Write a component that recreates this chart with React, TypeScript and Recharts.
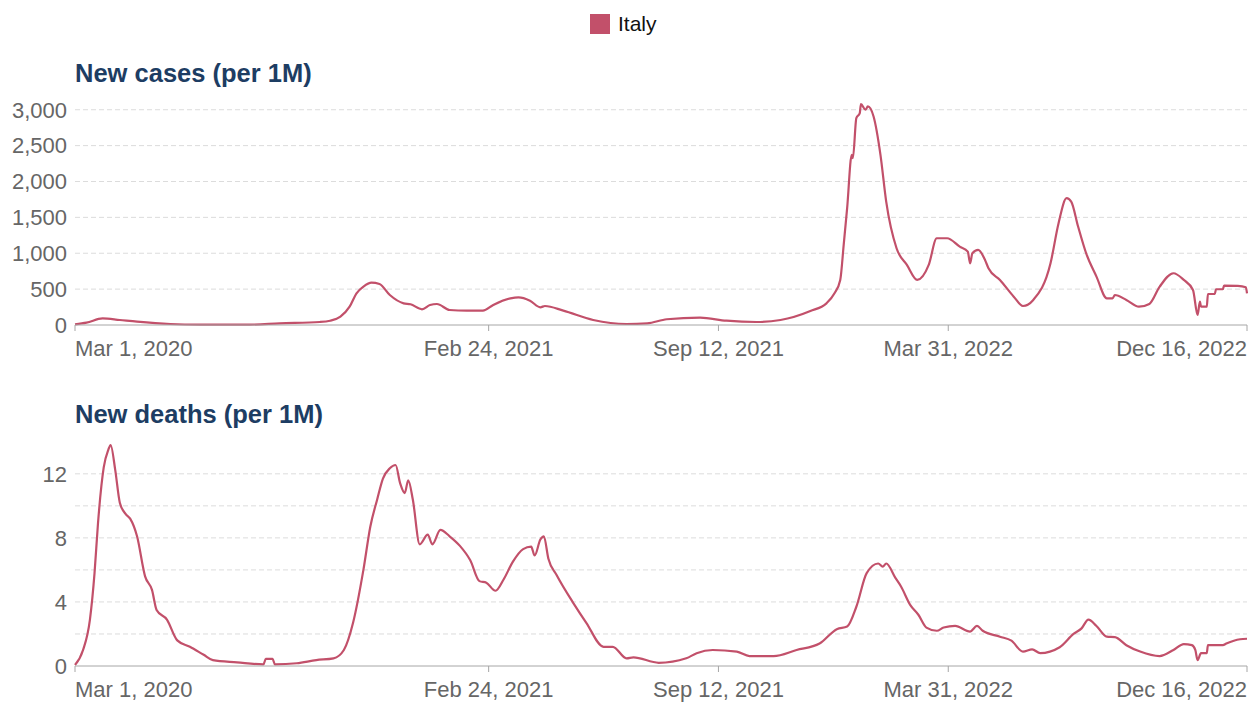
import { LineChart, Line, XAxis, YAxis, CartesianGrid } from "recharts";

// days since Mar 1, 2020
const caseDays = [
  0, 10, 24, 39, 54, 83, 109, 152, 178, 213, 222, 231, 239, 245, 251, 258, 265, 274, 286, 292,
  302, 309, 315, 326, 341, 355, 364, 379, 386, 396, 405, 409, 425, 451, 480, 498, 515, 544, 567, 593,
  614, 640, 654, 661, 666, 669, 672, 676, 677, 680, 683, 684, 688, 690, 695, 701, 706, 715, 724, 733,
  743, 750, 759, 770, 777, 779, 781, 786, 792, 795, 805, 817, 825, 834, 849, 856, 863, 867, 873, 880,
  889, 898, 903, 905, 915, 926, 935, 944, 956, 965, 973, 977, 979, 980, 985, 986, 992, 993, 999, 1000,
  1012, 1019, 1020,
];
const caseValues = [
  10, 32, 93, 70, 46, 14, 6, 5, 23, 42, 60, 116, 255, 442, 534, 590, 572, 418, 302, 289,
  219, 279, 293, 209, 199, 200, 279, 372, 386, 339, 247, 265, 200, 70, 14, 23, 80, 102, 60, 42,
  70, 195, 302, 442, 628, 1116, 1628, 2372, 2325, 2883, 2953, 3079, 3000, 3046, 2906, 2372, 1720, 1070, 837, 628,
  837, 1209, 1209, 1093, 1023, 860, 1000, 1046, 907, 791, 628, 395, 265, 349, 860, 1419, 1767, 1720, 1372, 1000,
  674, 372, 372, 418, 349, 255, 293, 534, 721, 628, 488, 140, 325, 255, 255, 432, 432, 498, 498, 548,
  544, 526, 442,
];

const deathDays = [
  0, 7, 13, 17, 20, 25, 29, 31, 35, 39, 44, 48, 54, 61, 67, 71, 80, 89, 100, 112,
  120, 141, 164, 166, 172, 174, 193, 210, 225, 234, 242, 251, 257, 263, 268, 274, 279, 283, 287, 290,
  294, 300, 307, 311, 318, 326, 335, 344, 352, 358, 366, 373, 381, 390, 397, 400, 405, 408, 412, 419,
  434, 445, 460, 468, 480, 486, 508, 532, 541, 555, 576, 587, 608, 628, 648, 663, 672, 680, 689, 699,
  703, 706, 714, 719, 727, 734, 741, 750, 756, 766, 779, 785, 790, 805, 815, 825, 833, 840, 857, 869,
  876, 882, 889, 898, 905, 915, 927, 944, 956, 965, 972, 975, 977, 980, 985, 986, 999, 1002, 1014, 1020,
];
const deathValues = [
  0.06, 1.0, 2.9, 5.8, 8.9, 12.4, 13.5, 13.8, 12.25, 10.2, 9.5, 9.2, 8.1, 5.6, 4.75, 3.5, 2.9, 1.6, 1.2, 0.7,
  0.37, 0.23, 0.1, 0.44, 0.44, 0.1, 0.17, 0.37, 0.48, 1.0, 2.7, 6.0, 8.7, 10.4, 11.7, 12.35, 12.55, 11.4, 10.8, 11.6,
  10.4, 7.6, 8.2, 7.6, 8.5, 8.1, 7.5, 6.6, 5.3, 5.2, 4.7, 5.4, 6.5, 7.3, 7.45, 6.9, 7.9, 8.1, 6.7, 5.7,
  3.9, 2.7, 1.2, 1.2, 0.48, 0.54, 0.2, 0.48, 0.8, 1.0, 0.9, 0.62, 0.62, 1.0, 1.4, 2.3, 2.46, 3.7, 5.8, 6.4,
  6.2, 6.4, 5.5, 4.95, 3.8, 3.2, 2.4, 2.2, 2.4, 2.5, 2.15, 2.5, 2.2, 1.83, 1.58, 0.9, 1.04, 0.8, 1.17, 2.0,
  2.35, 2.9, 2.5, 1.83, 1.8, 1.3, 0.9, 0.62, 1.0, 1.37, 1.3, 1.0, 0.37, 0.8, 0.8, 1.3, 1.3, 1.4, 1.67, 1.7,
];

const tickDays = [0, 360, 560, 760, 1020];
const tickLabels = ["Mar 1, 2020", "Feb 24, 2021", "Sep 12, 2021", "Mar 31, 2022", "Dec 16, 2022"];

const caseTicks = [0, 500, 1000, 1500, 2000, 2500, 3000];
const deathTicks = [0, 2, 4, 6, 8, 10, 12];

const LINE = "#c2506a";
const FONT = "'Liberation Sans', Arial, sans-serif";

const caseData = caseDays.map((d, i) => ({ day: d, value: caseValues[i] }));
const deathData = deathDays.map((d, i) => ({ day: d, value: deathValues[i] }));

const DateTick = (props: any) => {
  const { x, y, payload, index } = props;
  const anchor = index === 0 ? "start" : index === tickDays.length - 1 ? "end" : "middle";
  return (
    <text x={x} y={y} dy={23} textAnchor={anchor} fill="#666" fontSize={22} fontFamily={FONT}>
      {tickLabels[tickDays.indexOf(payload.value)]}
    </text>
  );
};

const Panel = ({ data, yMax, yTicks, fmt, top, height, marginTop }: any) => (
  <div style={{ position: "absolute", left: 0, top, width: 1248, height }}>
    <LineChart width={1248} height={height} data={data} margin={{ top: marginTop, right: 1, left: 0, bottom: 6 }}>
      <CartesianGrid
        horizontal
        vertical={false}
        horizontalValues={yTicks.filter((t: number) => t > 0)}
        stroke="#dcdcdc"
        strokeDasharray="5 3"
      />
      <XAxis
        dataKey="day"
        type="number"
        domain={[0, 1020]}
        ticks={tickDays}
        tick={<DateTick />}
        interval={0}
        stroke="#a6a6a6"
        tickSize={6}
        height={30}
      />
      <YAxis
        width={75}
        domain={[0, yMax]}
        ticks={yTicks}
        interval={0}
        axisLine={false}
        tickLine={false}
        tickFormatter={fmt}
        tick={{ fill: "#666", fontSize: 22, fontFamily: FONT }}
      />
      <Line type="monotone" dataKey="value" stroke={LINE} strokeWidth={2.2} dot={false} isAnimationActive={false} />
    </LineChart>
  </div>
);

const titleStyle: any = {
  position: "absolute",
  left: 75,
  fontFamily: FONT,
  fontWeight: "bold",
  fontSize: 25.5,
  color: "#1d3d63",
  lineHeight: "30px",
};

export default function App() {
  return (
    <div style={{ position: "absolute", left: 0, top: 0, width: 1248, height: 702, background: "#fff", fontFamily: FONT }}>
      <div style={{ position: "absolute", left: 590, top: 14, width: 20, height: 20, background: LINE }} />
      <div style={{ position: "absolute", left: 618, top: 11, fontSize: 21, lineHeight: "26px", color: "#111" }}>Italy</div>

      <div style={{ ...titleStyle, top: 58 }}>New cases (per 1M)</div>
      <Panel
        data={caseData}
        yMax={3080}
        yTicks={caseTicks}
        fmt={(v: number) => v.toLocaleString("en-US")}
        top={0}
        height={361}
        marginTop={104}
      />

      <div style={{ ...titleStyle, top: 399 }}>New deaths (per 1M)</div>
      <Panel
        data={deathData}
        yMax={13.8}
        yTicks={deathTicks}
        fmt={(v: number) => (v % 4 === 0 ? String(v) : "")}
        top={380}
        height={322}
        marginTop={65}
      />
    </div>
  );
}
